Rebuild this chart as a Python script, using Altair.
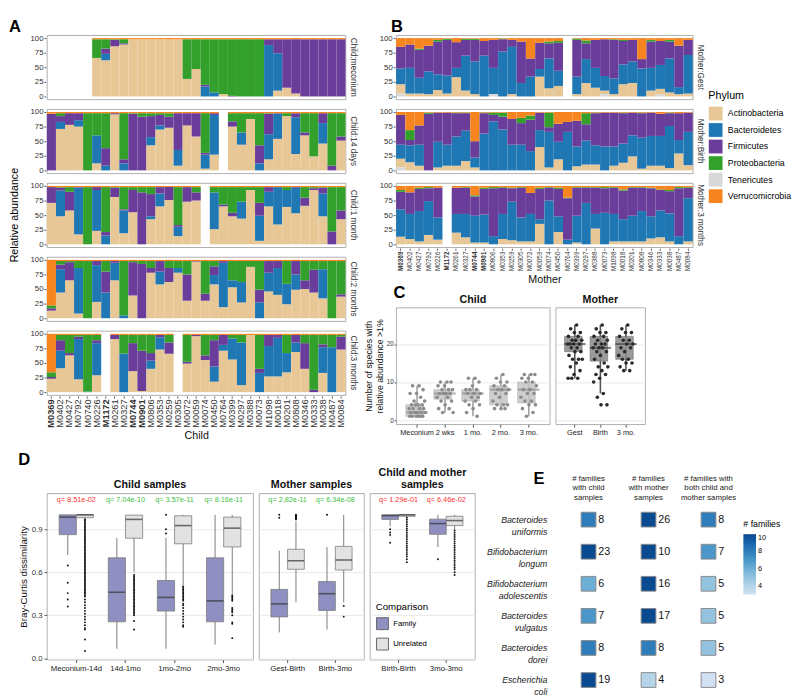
import json
import altair as alt
import pandas as pd

FONT = "Liberation Sans"

# ---------------- Panel A / B : phylum composition ----------------
PHYLA = ["Actinobacteria", "Bacteroidetes", "Firmicutes", "Proteobacteria", "Tenericutes", "Verrucomicrobia"]
PHYLA_COLORS = ["#e8c797", "#1f78b4", "#6a3d9a", "#33a02c", "#d8d8d8", "#f7851f"]
STACK_POS = [1, 2, 3, 4, 0, 5]   # Tenericutes sits at the bottom of each bar

CHILD_IDS = ["M0369", "M0402", "M0427", "M0792", "M0740", "M0226", "M1172", "M0261", "M0327", "M0744",
             "M0901", "M0806", "M0353", "M0259", "M0305", "M0072", "M0059", "M0074", "M0450", "M0764",
             "M0399", "M0297", "M0388", "M0073", "M1098", "M0018", "M0201", "M0808", "M0346", "M0333",
             "M0038", "M0487", "M0084"]
MOTHER_IDS = ["M0369", "M0402", "M0427", "M0792", "M0226", "M1172", "M0261", "M0327", "M0744",
              "M0901", "M0806", "M0353", "M0259", "M0305", "M0072", "M0059", "M0074", "M0450", "M0764",
              "M0399", "M0297", "M0388", "M0073", "M1098", "M0018", "M0201", "M0808", "M0346", "M0333",
              "M0038", "M0487", "M0084"]
BOLD_IDS = ["M0369", "M1172", "M0744", "M0901"]

CHILD_TIMES = ["Child:meconium", "Child:14 days", "Child:1 month", "Child:2 months", "Child:3 months"]
MOTHER_TIMES = ["Mother:Gest", "Mother:Birth", "Mother:3 months"]

# each entry: [Actinobacteria, Bacteroidetes, Firmicutes, Proteobacteria, Tenericutes, Verrucomicrobia]
child_meconium = [
    None, None, None, None, None,
    [66, 0, 0, 32, 0, 2], [62, 11, 9, 16, 0, 2], [86, 0, 11, 1, 0, 2], [89, 0, 2, 7, 0, 2],
    [98, 0, 0, 0, 0, 2], [98, 0, 0, 0, 0, 2], [98, 0, 0, 0, 0, 2], [98, 0, 0, 0, 0, 2],
    [98, 0, 0, 0, 0, 2], [98, 0, 0, 0, 0, 2], [30, 0, 0, 68, 0, 2], [47, 0, 0, 51, 0, 2],
    [0, 17, 3, 78, 0, 2], [0, 7, 0, 91, 0, 2], [4, 0, 0, 94, 0, 2], [0, 0, 1, 97, 0, 2],
    [0, 0, 0, 98, 0, 2], [0, 0, 0, 98, 0, 2], [0, 0, 0, 98, 0, 2], [0, 88, 10, 0, 0, 2],
    [10, 64, 24, 0, 0, 2], [15, 0, 83, 0, 0, 2], [5, 0, 93, 0, 0, 2], [0, 0, 98, 0, 0, 2],
    [0, 0, 98, 0, 0, 2], [0, 0, 98, 0, 0, 2], [0, 0, 98, 0, 0, 2], [0, 0, 98, 0, 0, 2],
]
child_14d = [
    [0, 0, 97, 0, 0, 3], [71, 12, 10, 5, 0, 2], [78, 0, 20, 0, 0, 2], [75, 11, 12, 0, 0, 2],
    [0, 0, 0, 98, 0, 2], [12, 48, 0, 38, 0, 2], [0, 8, 30, 60, 0, 2], [96, 0, 2, 0, 0, 2],
    [0, 12, 7, 79, 0, 2], [0, 0, 97, 1, 0, 2], [0, 0, 92, 6, 0, 2], [43, 14, 36, 5, 0, 2],
    [70, 7, 18, 3, 0, 2], [73, 0, 19, 6, 0, 2], [8, 27, 63, 0, 0, 2], [77, 0, 21, 0, 0, 2],
    [58, 0, 40, 0, 0, 2], [3, 24, 3, 68, 0, 2], [27, 68, 3, 0, 0, 2], None,
    [75, 0, 9, 14, 0, 2], [44, 21, 0, 33, 0, 2], [88, 0, 0, 10, 0, 2], [0, 12, 31, 55, 0, 2],
    [19, 43, 35, 1, 0, 2], [54, 43, 1, 0, 0, 2], [93, 0, 0, 5, 0, 2], [28, 63, 7, 0, 0, 2],
    [60, 0, 5, 33, 0, 2], [24, 0, 0, 74, 0, 2], [46, 35, 17, 0, 0, 2], [0, 0, 8, 90, 0, 2],
    [51, 0, 7, 40, 0, 2],
]
child_1m = [
    [71, 0, 27, 0, 0, 2], [48, 44, 5, 1, 0, 2], [58, 0, 32, 8, 0, 2], [17, 80, 1, 0, 0, 2],
    [0, 0, 0, 98, 0, 2], [23, 70, 5, 0, 0, 2], [0, 15, 6, 77, 0, 2], [81, 0, 16, 1, 0, 2],
    [19, 39, 2, 38, 0, 2], [55, 0, 38, 5, 0, 2], [0, 0, 89, 9, 0, 2], [43, 5, 38, 12, 0, 2],
    [65, 22, 11, 0, 0, 2], [76, 0, 22, 0, 0, 2], [14, 16, 3, 65, 0, 2], [73, 0, 25, 0, 0, 2],
    [75, 0, 14, 9, 0, 2], None, [26, 63, 0, 9, 0, 2], [65, 0, 3, 30, 0, 2],
    [48, 0, 6, 44, 0, 2], [44, 29, 0, 25, 0, 2], [93, 0, 0, 5, 0, 2], [6, 43, 22, 27, 0, 2],
    [65, 25, 8, 0, 0, 2], [34, 64, 0, 0, 0, 2], [64, 29, 0, 5, 0, 2], [53, 44, 1, 0, 0, 2],
    [66, 0, 14, 18, 0, 2], [93, 0, 3, 2, 0, 2], [48, 39, 10, 1, 0, 2], [0, 0, 22, 76, 0, 2],
    [43, 0, 15, 40, 0, 2],
]
child_2m = [
    [13, 0, 4, 5, 0, 78], [44, 40, 8, 6, 0, 2], [65, 0, 31, 2, 0, 2], [8, 78, 0, 12, 0, 2],
    [0, 0, 0, 98, 0, 2], [28, 63, 7, 0, 0, 2], [0, 44, 36, 18, 0, 2], [65, 30, 3, 0, 0, 2],
    [0, 5, 0, 93, 0, 2], [39, 0, 57, 2, 0, 2], [0, 0, 93, 5, 0, 2], [78, 0, 8, 12, 0, 2],
    [58, 22, 18, 0, 0, 2], [62, 0, 24, 12, 0, 2], [78, 8, 0, 12, 0, 2], [30, 0, 45, 23, 0, 2],
    [97, 0, 1, 0, 0, 2], [30, 0, 12, 56, 0, 2], [58, 16, 15, 9, 0, 2], [19, 76, 3, 0, 0, 2],
    [53, 12, 0, 33, 0, 2], [27, 35, 0, 36, 0, 2], [88, 0, 0, 10, 0, 2], [0, 27, 22, 49, 0, 2],
    [46, 32, 20, 0, 0, 2], [40, 46, 12, 0, 0, 2], [24, 35, 0, 39, 0, 2], [49, 26, 23, 0, 0, 2],
    [50, 0, 15, 33, 0, 2], [44, 0, 39, 15, 0, 2], [34, 50, 0, 14, 0, 2], [0, 0, 0, 98, 0, 2],
    [37, 0, 4, 57, 0, 2],
]
child_3m = [
    [23, 0, 3, 8, 0, 66], [41, 30, 18, 9, 0, 2], [63, 0, 4, 31, 0, 2], [22, 69, 4, 3, 0, 2],
    [0, 1, 0, 97, 0, 2], [29, 55, 5, 9, 0, 2], None, [91, 0, 7, 0, 0, 2],
    [0, 66, 0, 32, 0, 2], [36, 0, 48, 14, 0, 2], [2, 0, 69, 27, 0, 2], [40, 14, 13, 31, 0, 2],
    [73, 21, 4, 0, 0, 2], [66, 0, 19, 13, 0, 2], None, [49, 0, 3, 46, 0, 2],
    [96, 0, 2, 0, 0, 2], [55, 0, 8, 35, 0, 2], [18, 26, 45, 9, 0, 2], [71, 10, 17, 0, 0, 2],
    [56, 36, 0, 6, 0, 2], [12, 73, 0, 13, 0, 2], [98, 0, 0, 0, 0, 2], [0, 33, 7, 58, 0, 2],
    [27, 52, 19, 0, 0, 2], [27, 66, 5, 0, 0, 2], [34, 33, 0, 31, 0, 2], [69, 16, 13, 0, 0, 2],
    [40, 0, 44, 14, 0, 2], [0, 0, 4, 94, 0, 2], [33, 44, 5, 16, 0, 2], [0, 77, 0, 21, 0, 2],
    [73, 0, 22, 3, 0, 2],
]

mother_gest = [
    [16, 27, 37, 0, 5, 15], [5, 44, 40, 0, 0, 11], [5, 27, 48, 2, 0, 18], [4, 39, 44, 0, 0, 13],
    [11, 27, 56, 3, 0, 3], [5, 31, 61, 2, 0, 1], [33, 16, 44, 0, 0, 7], [10, 60, 27, 2, 0, 1],
    [4, 56, 37, 2, 0, 1], [0, 70, 25, 0, 0, 5], [0, 45, 48, 0, 4, 3], [0, 77, 21, 1, 0, 1],
    [4, 81, 12, 0, 0, 3], [0, 23, 71, 0, 0, 6], [0, 34, 31, 0, 0, 35], [34, 13, 45, 0, 0, 8],
    [14, 51, 26, 3, 0, 6], [18, 26, 48, 3, 0, 5], None, [4, 30, 63, 2, 0, 1],
    [23, 41, 27, 5, 0, 4], [15, 34, 48, 0, 0, 3], [6, 25, 63, 0, 4, 2], [4, 27, 66, 1, 0, 2],
    [21, 34, 40, 2, 0, 3], [23, 37, 37, 0, 0, 3], [0, 48, 16, 0, 0, 36], [10, 39, 45, 3, 0, 3],
    [10, 41, 41, 0, 3, 5], [7, 58, 29, 3, 0, 3], [4, 12, 71, 0, 0, 13], [5, 66, 26, 0, 0, 3],
]
mother_birth = [
    [15, 24, 51, 0, 5, 5], [14, 29, 9, 17, 0, 31], [8, 36, 33, 0, 0, 23], [0, 0, 97, 2, 0, 1],
    [5, 44, 50, 0, 0, 1], [8, 36, 55, 0, 0, 1], [8, 50, 40, 1, 0, 1], [16, 52, 30, 1, 0, 1],
    [5, 17, 28, 0, 0, 50], [0, 63, 35, 1, 0, 1], [0, 84, 11, 4, 0, 1], [0, 70, 22, 7, 0, 1],
    [0, 44, 44, 0, 0, 12], [0, 44, 37, 9, 0, 10], [0, 33, 54, 7, 0, 6], [40, 29, 30, 0, 0, 1],
    [5, 61, 8, 25, 0, 1], [19, 30, 31, 0, 0, 20], [0, 66, 17, 0, 0, 17], [7, 34, 44, 0, 0, 15],
    [10, 41, 28, 19, 0, 2], [10, 33, 55, 1, 0, 1], [0, 41, 58, 0, 0, 1], [8, 33, 58, 0, 0, 1],
    [13, 33, 52, 1, 0, 1], [24, 36, 39, 0, 0, 1], [3, 53, 42, 1, 0, 1], [8, 51, 40, 0, 0, 1],
    [8, 51, 38, 0, 0, 3], [4, 72, 22, 1, 0, 1], [29, 23, 46, 0, 0, 2], [9, 57, 33, 0, 0, 1],
]
mother_3m = [
    [13, 47, 30, 3, 0, 7], [9, 43, 37, 0, 0, 11], [5, 52, 38, 2, 0, 3], [16, 58, 22, 2, 0, 2],
    [8, 38, 51, 0, 0, 3], None, [20, 32, 45, 0, 0, 3], [12, 40, 45, 1, 0, 2],
    [3, 46, 33, 2, 0, 16], [3, 48, 44, 2, 0, 3], [0, 14, 82, 2, 0, 2], [9, 43, 45, 1, 0, 2],
    [7, 66, 23, 1, 0, 3], [5, 41, 51, 1, 0, 2], [5, 47, 36, 0, 0, 12], [35, 8, 52, 2, 0, 3],
    [0, 75, 22, 1, 0, 2], [21, 27, 47, 2, 0, 3], [0, 8, 71, 1, 0, 20], [3, 46, 48, 1, 0, 2],
    [0, 71, 26, 1, 0, 2], [27, 25, 45, 1, 0, 2], [0, 54, 42, 2, 0, 2], [5, 47, 45, 1, 0, 2],
    [5, 38, 49, 2, 0, 6], [5, 44, 48, 1, 0, 2], [5, 52, 40, 1, 0, 2], [10, 38, 48, 1, 0, 3],
    [12, 46, 35, 1, 0, 6], [5, 48, 38, 2, 0, 7], [0, 14, 82, 2, 0, 2], [5, 74, 18, 1, 0, 2],
]

# ---------------- Panel C : species richness ----------------
C_CHILD_GROUPS = ["Meconium", "2 wks", "1 mo.", "2 mo.", "3 mo."]
C_MOTHER_GROUPS = ["Gest", "Birth", "3 mo."]
c_meconium = [9, 9, 8, 7, 7, 6, 5, 5, 4, 4, 4, 4, 3, 3, 3, 3, 2, 2, 2, 2, 2, 1, 1, 1, 1, 1, 1]
c_2wks = [10, 10, 10, 9, 9, 8, 8, 8, 7, 7, 7, 7, 6, 6, 5, 5, 4, 3, 3, 2, 2]
c_1mo = [11, 11, 10, 9, 8, 8, 8, 7, 7, 7, 6, 6, 5, 5, 4, 4, 3, 2, 1]
c_2mo = [12, 11, 10, 10, 9, 9, 8, 8, 8, 7, 7, 6, 5, 4, 4, 4, 3, 3, 3]
c_3mo = [12, 12, 12, 11, 11, 10, 10, 9, 8, 8, 7, 7, 6, 5, 5, 4, 4, 3, 2, 1]
c_gest = [25, 24, 23, 23, 22, 22, 21, 21, 21, 20, 20, 20, 20, 19, 19, 18, 18, 17, 16, 16, 16, 15, 14, 13,
          12, 11, 11, 11]
c_birth = [25, 24, 23, 23, 22, 22, 21, 21, 20, 20, 20, 19, 19, 19, 18, 18, 17, 16, 15, 14, 14, 13, 12, 12,
           11, 10, 7, 6, 4, 4]
c_m3mo = [25, 24, 23, 23, 22, 21, 21, 20, 20, 19, 19, 18, 17, 16, 16, 15, 15, 14, 13, 13]
c_child_lo = [1, 2, 1, 3, 1]
c_child_q1 = [1, 5.5, 5, 4, 4.5]
c_child_med = [2, 7, 7, 8, 8]
c_child_q3 = [4, 8, 8, 9, 10]
c_child_hi = [9, 10, 11, 12, 12]
c_mother_lo = [11, 7, 13]
c_mother_q1 = [18, 15.5, 16]
c_mother_med = [20, 19, 20]
c_mother_q3 = [22, 22, 22]
c_mother_hi = [25, 25, 25]

# ---------------- Panel D : Bray-Curtis ----------------
COMPS = ["Family", "Unrelated"]
COMP_COLORS = ["#8f8fc2", "#e2e2e2"]
D_CHILD = ["Meconium-14d", "14d-1mo", "1mo-2mo", "2mo-3mo"]
D_MOTHER = ["Gest-Birth", "Birth-3mo"]
D_BOTH = ["Birth-Birth", "3mo-3mo"]
D_PAIRS = D_CHILD + D_MOTHER + D_BOTH
# values ordered pair by pair, Family then Unrelated
d_lo = [0.72, 0.98, 0.066, 0.60, 0.066, 0.51, 0.095, 0.45, 0.18, 0.39, 0.20, 0.39, 0.92, 0.985, 0.775, 0.90]
d_q1 = [0.862, 0.98, 0.254, 0.837, 0.329, 0.798, 0.254, 0.776, 0.288, 0.62, 0.333, 0.615, 0.968, 0.99, 0.864, 0.925]
d_med = [0.984, 1.0, 0.46, 0.968, 0.424, 0.925, 0.40, 0.907, 0.379, 0.68, 0.45, 0.685, 0.995, 1.0, 0.939, 0.96]
d_q3 = [1.0, 1.0, 0.70, 0.998, 0.542, 0.993, 0.70, 0.984, 0.48, 0.76, 0.535, 0.78, 1.0, 1.0, 0.97, 0.99]
d_hi = [1.0, 1.0, 0.837, 1.0, 0.84, 1.0, 1.0, 1.0, 0.75, 0.96, 0.775, 1.0, 1.0, 1.0, 1.0, 1.0]
d_outliers = {
    ("Meconium-14d", "Family"): [0.646, 0.526, 0.454, 0.41, 0.36],
    ("Meconium-14d", "Unrelated"): [0.97, 0.96, 0.95, 0.94, 0.93, 0.92, 0.91, 0.9, 0.89, 0.88, 0.87, 0.86,
                                    0.85, 0.84, 0.83, 0.82, 0.81, 0.8, 0.79, 0.78, 0.77, 0.76, 0.75, 0.74,
                                    0.73, 0.72, 0.71, 0.7, 0.69, 0.68, 0.67, 0.66, 0.65, 0.64, 0.63, 0.62,
                                    0.61, 0.6, 0.59, 0.58, 0.57, 0.56, 0.55, 0.54, 0.53, 0.52, 0.51, 0.5,
                                    0.49, 0.48, 0.47, 0.46, 0.45, 0.44, 0.43, 0.41, 0.39, 0.37, 0.35, 0.33,
                                    0.31, 0.29, 0.27, 0.25, 0.23, 0.21, 0.2, 0.13, 0.05],
    ("14d-1mo", "Unrelated"): [0.58, 0.57, 0.56, 0.55, 0.54, 0.53, 0.52, 0.51, 0.5, 0.49, 0.48, 0.47, 0.46,
                               0.45, 0.44, 0.43, 0.42, 0.41, 0.4, 0.39, 0.38, 0.37, 0.36, 0.35, 0.34, 0.33,
                               0.32, 0.31, 0.3, 0.26, 0.2],
    ("1mo-2mo", "Family"): [1.0, 0.9, 0.87],
    ("1mo-2mo", "Unrelated"): [0.5, 0.49, 0.48, 0.47, 0.46, 0.45, 0.44, 0.43, 0.42, 0.41, 0.4, 0.38, 0.37,
                               0.35, 0.33, 0.31, 0.29, 0.27, 0.25, 0.23, 0.22],
    ("2mo-3mo", "Unrelated"): [0.44, 0.43, 0.42, 0.41, 0.4, 0.35, 0.34, 0.33, 0.32, 0.3, 0.25, 0.24, 0.14],
    ("Gest-Birth", "Family"): [1.0, 0.98],
    ("Gest-Birth", "Unrelated"): [0.97, 0.975, 0.98, 0.985, 0.99, 0.995, 1.0],
    ("Birth-3mo", "Family"): [1.0],
    ("Birth-3mo", "Unrelated"): [0.365, 0.29],
    ("Birth-Birth", "Family"): [0.9, 0.877, 0.86, 0.805],
    ("Birth-Birth", "Unrelated"): [0.98, 0.965, 0.95, 0.935, 0.92, 0.905, 0.89, 0.875, 0.86, 0.845, 0.83,
                                   0.815, 0.8, 0.785, 0.77, 0.755, 0.74, 0.725, 0.71, 0.69, 0.67],
    ("3mo-3mo", "Family"): [0.69],
    ("3mo-3mo", "Unrelated"): [0.89, 0.875, 0.86, 0.845, 0.83, 0.815, 0.8, 0.785, 0.77, 0.755, 0.74, 0.725,
                               0.71, 0.695, 0.68, 0.665, 0.65, 0.635, 0.62, 0.6, 0.58],
}
d_qlabels = ["q= 8.51e-02", "q= 7.04e-10", "q= 3.57e-11", "q= 8.16e-11",
             "q= 2.82e-11", "q= 6.34e-08", "q= 1.29e-01", "q= 6.46e-02"]
d_qcolors = ["#ff3030", "#3cc23c", "#3cc23c", "#3cc23c", "#3cc23c", "#3cc23c", "#ff3030", "#ff3030"]

# ---------------- Panel E : shared strains ----------------
E_SPECIES = ["Bacteroides uniformis", "Bifidobacterium longum", "Bifidobacterium adolescentis",
             "Bacteroides vulgatus", "Bacteroides dorei", "Escherichia coli"]
E_COLUMNS = ["child", "mother", "both"]
E_HEADERS = ["# families\nwith child\nsamples", "# families\nwith mother\nsamples",
             "# families with\nboth child and\nmother samples"]
e_child = [8, 23, 6, 7, 8, 19]
e_mother = [26, 10, 16, 17, 8, 4]
e_both = [8, 7, 5, 5, 5, 3]

# =====================================================================
LETTER = dict(anchor="start", fontSize=17, fontWeight="bold", color="#000")


def stack_frame(times, rows, ids):
    recs = []
    for t, row in zip(times, rows):
        for sid, vals in zip(ids, row):
            if vals is None:
                continue
            for p, k, v in zip(PHYLA, STACK_POS, vals):
                if v > 0:
                    recs.append({"time": t, "subject": sid, "phylum": p, "k": k, "value": v})
    return pd.DataFrame(recs)


bold_expr = "indexof(" + json.dumps(BOLD_IDS) + ", datum.value) >= 0 ? 'bold' : 'normal'"

phylum_legend = alt.Legend(title="Phylum", orient="none", legendX=680, legendY=57,
                           symbolType="square", symbolSize=200, symbolStrokeWidth=0,
                           labelFontSize=9, titleFontSize=11, titleFontWeight="normal",
                           rowPadding=2, labelOffset=5)


def abundance(df, ids, times, width, letter, letter_dx, xtitle, rowtitle, lab_size):
    yax = alt.Axis(title=None, values=[0, 25, 50, 75, 100], grid=False, labelFontSize=8,
                   tickSize=2, labelPadding=1, domain=False)
    if rowtitle:
        hdr = alt.Header(title=rowtitle, titleOrient="left", titleFontSize=11, titleFontWeight="normal",
                         titlePadding=0, labelOrient="right", labelAngle=90,
                         labelFontSize=8.5, labelPadding=3, labelColor="#333")
    else:
        hdr = alt.Header(title=None, labelOrient="right", labelAngle=90,
                         labelFontSize=8.5, labelPadding=3, labelColor="#333")
    return alt.Chart(df).mark_bar().encode(
        x=alt.X("subject:N", sort=ids,
                scale=alt.Scale(domain=ids, paddingInner=0, paddingOuter=0),
                axis=alt.Axis(title=xtitle, labelAngle=270, labelFontSize=lab_size,
                              labelFontWeight={"expr": bold_expr}, tickSize=2, labelPadding=1,
                              titleFontSize=11, titleFontWeight="normal", titlePadding=3,
                              domain=False)),
        y=alt.Y("value:Q", stack="zero",
                scale=alt.Scale(domain=[-5, 105], nice=False, zero=False), axis=yax),
        color=alt.Color("phylum:N", scale=alt.Scale(domain=PHYLA, range=PHYLA_COLORS),
                        legend=phylum_legend),
        order=alt.Order("k:Q", sort="ascending"),
        row=alt.Row("time:N", sort=times, header=hdr),
    ).properties(width=width, height=66,
                 title=alt.Title(letter, offset=-2, dx=letter_dx, **LETTER))


df_a = stack_frame(CHILD_TIMES, [child_meconium, child_14d, child_1m, child_2m, child_3m], CHILD_IDS)
df_b = stack_frame(MOTHER_TIMES, [mother_gest, mother_birth, mother_3m], MOTHER_IDS)

chart_a = abundance(df_a, CHILD_IDS, CHILD_TIMES, 307, "A", 0, "Child", "Relative abundance", 9.5)
chart_b = abundance(df_b, MOTHER_IDS, MOTHER_TIMES, 305, "B", 12, "Mother", None, 6.5)


# ---------------- C ----------------
def c_panel(groups, points, lo, q1, med, q3, hi, width, title, first, box_fill, box_stroke,
            med_col, pt_col):
    pts = pd.DataFrame([{"g": g, "v": v} for g, vals in zip(groups, points) for v in vals])
    st = pd.DataFrame({"g": groups, "lo": lo, "q1": q1, "med": med, "q3": q3, "hi": hi})
    x = alt.X("g:N", sort=groups,
              scale=alt.Scale(domain=groups, paddingInner=0.2, paddingOuter=0.35),
              axis=alt.Axis(title=None, labelAngle=0, labelFontSize=7.5, tickSize=3, labelPadding=2,
                            domain=False, labelColor="#222"))
    ysc = alt.Scale(domain=[-1.1, 29.6], nice=False, zero=False)
    if first:
        yax = alt.Axis(title=["Number of species with", "relative abundance >1%"], values=[0, 10, 20],
                       grid=True, gridColor="#e8e8e8", labelFontSize=6.5, tickSize=2, labelPadding=1,
                       titleFontSize=9, titleFontWeight="normal", titlePadding=2, domain=False)
    else:
        yax = alt.Axis(title=None, values=[0, 10, 20], grid=True, gridColor="#e8e8e8",
                       labels=False, ticks=False, domain=False)
    whisk = alt.Chart(st).mark_rule(color=box_stroke, strokeWidth=1.6).encode(
        x=x, y=alt.Y("lo:Q", scale=ysc, axis=yax), y2="hi:Q")
    box = alt.Chart(st).mark_bar(fill=box_fill, stroke=box_stroke, strokeWidth=0.6,
                                 opacity=0.85).encode(x=x, y="q1:Q", y2="q3:Q")
    mline = alt.Chart(st).mark_tick(color=med_col, thickness=2, size=22).encode(x=x, y="med:Q")
    dots = alt.Chart(pts).transform_window(
        rn="row_number()", groupby=["g"]
    ).transform_calculate(
        jit="0.12 + 0.76 * ((datum.rn * 0.618034) % 1)"
    ).mark_circle(size=14, color=pt_col, opacity=1).encode(
        x=x, xOffset=alt.XOffset("jit:Q", scale=alt.Scale(domain=[0, 1])), y="v:Q")
    return alt.layer(whisk, box, mline, dots).properties(
        width=width, height=120,
        title=alt.Title(title, fontSize=11, fontWeight="bold", anchor="middle", offset=3))


c_child = c_panel(C_CHILD_GROUPS, [c_meconium, c_2wks, c_1mo, c_2mo, c_3mo],
                  c_child_lo, c_child_q1, c_child_med, c_child_q3, c_child_hi,
                  158, "Child", True, "#c6c6c6", "#a0a0a0", "#8a8a8a", "#8c8c8c")
c_mother = c_panel(C_MOTHER_GROUPS, [c_gest, c_birth, c_m3mo],
                   c_mother_lo, c_mother_q1, c_mother_med, c_mother_q3, c_mother_hi,
                   92, "Mother", False, "#8a8a8a", "#555555", "#444444", "#2a2a2a")
chart_c = alt.hconcat(c_child, c_mother, spacing=4,
                      title=alt.Title("C", offset=-9, dx=30, **LETTER)
                      ).resolve_scale(xOffset="independent")

# ---------------- D ----------------
box_rows = []
for i, p in enumerate(D_PAIRS):
    for j, c in enumerate(COMPS):
        n = 2 * i + j
        box_rows.append({"pair": p, "comp": c, "lo": d_lo[n], "q1": d_q1[n], "med": d_med[n],
                         "q3": d_q3[n], "hi": d_hi[n]})
box_df = pd.DataFrame(box_rows)
out_df = pd.DataFrame([{"pair": k[0], "comp": k[1], "value": v}
                       for k, vals in d_outliers.items() for v in vals])
q_df = pd.DataFrame({"pair": D_PAIRS, "q": d_qlabels, "qcol": d_qcolors})

comp_legend = alt.Legend(title="Comparison", orient="none", legendX=338, legendY=112,
                         symbolType="square", symbolSize=150, symbolStrokeColor="#666",
                         symbolStrokeWidth=1, labelFontSize=8, titleFontSize=10,
                         titleFontWeight="normal", rowPadding=3)


def d_panel(pairs, width, title, first):
    bx = box_df[box_df.pair.isin(pairs)]
    od = out_df[out_df.pair.isin(pairs)]
    qd = q_df[q_df.pair.isin(pairs)]
    x = alt.X("pair:N", sort=pairs,
              scale=alt.Scale(domain=pairs, paddingInner=0.3, paddingOuter=0.25),
              axis=alt.Axis(title=None, labelAngle=0, labelFontSize=8, tickSize=3, labelPadding=2,
                            domain=False, labelColor="#222"))
    xo = alt.XOffset("comp:N", sort=COMPS,
                     scale=alt.Scale(domain=COMPS, paddingInner=0, paddingOuter=0))
    ysc = alt.Scale(domain=[-0.01, 1.15], nice=False, zero=False)
    if first:
        yax = alt.Axis(title="Bray-Curtis dissimilarity", values=[0, 0.3, 0.6, 0.9], format=".1f",
                       grid=True, gridColor="#e8e8e8", labelFontSize=8, tickSize=3, labelPadding=2,
                       titleFontSize=10, titleFontWeight="normal", titlePadding=3, domain=False)
    else:
        yax = alt.Axis(title=None, values=[0, 0.3, 0.6, 0.9], grid=True, gridColor="#e8e8e8",
                       labels=False, ticks=False, domain=False)
    whisk = alt.Chart(bx).mark_rule(color="#7a7a7a", strokeWidth=1).encode(
        x=x, xOffset=xo, y=alt.Y("lo:Q", scale=ysc, axis=yax), y2="hi:Q")
    box = alt.Chart(bx).mark_bar(stroke="#7a7a7a", strokeWidth=0.8).encode(
        x=x, xOffset=xo, y="q1:Q", y2="q3:Q",
        fill=alt.Fill("comp:N", scale=alt.Scale(domain=COMPS, range=COMP_COLORS), legend=comp_legend))
    mline = alt.Chart(bx).mark_tick(color="#333333", thickness=1.6, size=17).encode(
        x=x, xOffset=xo, y="med:Q")
    dots = alt.Chart(od).mark_circle(size=4, color="#111", opacity=1).encode(
        x=x, xOffset=xo, y="value:Q")
    qt = alt.Chart(qd).mark_text(fontSize=7.5).encode(
        x=x, y=alt.datum(1.1), text="q:N", color=alt.Color("qcol:N", scale=None))
    return alt.layer(whisk, box, mline, dots, qt).properties(
        width=width, height=171,
        title=alt.Title(title, fontSize=11, fontWeight="bold", anchor="middle", offset=3))


d1 = d_panel(D_CHILD, 212, "Child samples", True)
d2 = d_panel(D_MOTHER, 108, "Mother samples", False)
d3 = d_panel(D_BOTH, 108, ["Child and mother", "samples"], False)
chart_d = alt.hconcat(d1, d2, d3, spacing=4,
                      title=alt.Title("D", offset=-2, **LETTER)).resolve_scale(xOffset="independent")

# ---------------- E ----------------
e_rows = []
for col, vals in zip(E_COLUMNS, [e_child, e_mother, e_both]):
    for sp, n in zip(E_SPECIES, vals):
        e_rows.append({"col": col, "species": sp, "n": n})
e_df = pd.DataFrame(e_rows)
h_df = pd.DataFrame({"col": E_COLUMNS, "h": E_HEADERS})

ex = alt.X("col:N", sort=E_COLUMNS, scale=alt.Scale(domain=E_COLUMNS), axis=None)
ey = alt.Y("species:N", sort=E_SPECIES, scale=alt.Scale(domain=E_SPECIES, padding=0.82),
           axis=alt.Axis(title=None, labelExpr="split(datum.label, ' ')", labelFontStyle="italic",
                         labelFontSize=9, labelLineHeight=12, ticks=False, domain=False,
                         labelPadding=12, labelColor="#222"))
e_tiles = alt.Chart(e_df).mark_square(
    size=230, stroke="#8a8a8a", strokeWidth=1, opacity=1).encode(
    x=ex, y=ey,
    fill=alt.Fill("n:Q", scale=alt.Scale(domain=[3, 10], scheme="blues", clamp=True),
                  legend=alt.Legend(title="# families", orient="none", legendX=190, legendY=28,
                                    gradientLength=62, gradientThickness=13, values=[4, 6, 8, 10],
                                    labelFontSize=7.5, titleFontSize=9, titleFontWeight="normal",
                                    direction="vertical")))
e_nums = alt.Chart(e_df).mark_text(align="left", dx=10, fontSize=11, color="#111").encode(
    x=ex, y=ey, text="n:Q")
e_head = alt.Chart(h_df).mark_text(fontSize=8, lineBreak="\n", baseline="top", color="#222",
                                   lineHeight=10).encode(x=ex, y=alt.value(-19), text="h:N")
e_letter = alt.Chart(pd.DataFrame({"t": ["E"]})).mark_text(
    fontSize=17, fontWeight="bold", color="#000", align="center", baseline="middle"
).encode(x=alt.value(-20), y=alt.value(-15), text="t:N")
chart_e = alt.layer(e_tiles, e_nums, e_head, e_letter).properties(
    width=185, height=219, view=alt.ViewBackground(strokeOpacity=0))

# ---------------- assemble ----------------
col_bc = alt.concat(chart_b, chart_c, columns=1, spacing=0, align="none").resolve_scale(
    xOffset="independent")
top = alt.hconcat(chart_a, col_bc, spacing=6).resolve_scale(color="shared", xOffset="independent")
bottom = alt.hconcat(chart_d, chart_e, spacing=10).resolve_scale(fill="independent",
                                                                  xOffset="independent")
chart = alt.vconcat(top, bottom, spacing=9).resolve_scale(
    color="independent", fill="independent", xOffset="independent"
).properties(
    padding={"left": 0, "top": 0, "right": 0, "bottom": 0}
).configure(font=FONT).configure_view(
    stroke="#9a9a9a", strokeWidth=0.8
).configure_facet(spacing=8).configure_axis(
    labelColor="#333", tickColor="#555", labelFont=FONT, titleFont=FONT, titleColor="#111"
).configure_title(font=FONT, color="#111").configure_header(labelFont=FONT, titleFont=FONT)

chart.save("out.html", embed_options={"renderer": "svg", "actions": False})
